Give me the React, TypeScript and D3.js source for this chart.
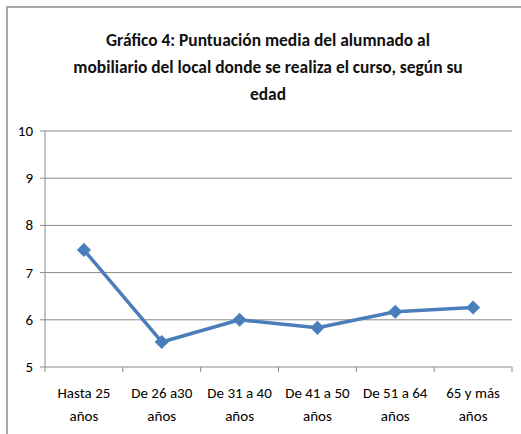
import * as d3 from "d3";

// Gráfico 4 - puntuación media por edad
const categories = [
  ["Hasta 25", "años"],
  ["De 26 a30", "años"],
  ["De 31 a 40", "años"],
  ["De 41 a 50", "años"],
  ["De 51 a 64", "años"],
  ["65 y más", "años"],
];
const values = [7.48, 5.53, 6.0, 5.83, 6.17, 6.26];
const yTicks = [5, 6, 7, 8, 9, 10];
const titleLines = [
  "Gráfico 4: Puntuación media del alumnado al",
  "mobiliario del local donde se realiza el curso, según su",
  "edad",
];

const width = 521;
const height = 434;
const marginLeft = 45;
const marginRight = 9;
const marginTop = 131;
const marginBottom = 67;

const font = "Carlito, Calibri, Lato, 'Open Sans', sans-serif";

export default function App() {
  const x = d3
    .scaleBand<number>()
    .domain(d3.range(categories.length))
    .range([marginLeft, width - marginRight]);
  const y = d3.scaleLinear([5, 10], [height - marginBottom, marginTop]);

  const line = d3
    .line<number>()
    .x((_, i) => x(i)! + x.bandwidth() / 2)
    .y((d) => y(d));

  // square turned 45deg, like the excel marker
  const diamond = d3.symbol(d3.symbolSquare, 100)()!;
  const bounds = [...d3.range(categories.length).map((i) => x(i)!), width - marginRight];

  return (
    <svg
      width={width}
      height={height}
      style={{ position: "absolute", left: 0, top: 0, background: "#fff" }}
      fontFamily={font}
    >
      <rect x={7} y={7} width={width} height={height} fill="none" stroke="#8c8c8c" strokeWidth={1.5} />

      {titleLines.map((t, i) => (
        <text key={i} x={268} y={46 + i * 27} textAnchor="middle" fontSize={17.4} fontWeight="bold" fill="#111">
          {t}
        </text>
      ))}

      {/* gridlines */}
      {yTicks.map((t) => (
        <g key={t}>
          <line x1={marginLeft - 5} x2={width - marginRight} y1={y(t)} y2={y(t)} stroke="#8a8a8a" />
          <text x={marginLeft - 12} y={y(t) + 5} textAnchor="end" fontSize={15} fill="#000">
            {t}
          </text>
        </g>
      ))}

      <line x1={marginLeft} x2={marginLeft} y1={marginTop} y2={height - marginBottom} stroke="#8a8a8a" />
      {bounds.map((b, i) => (
        <line key={i} x1={b} x2={b} y1={height - marginBottom} y2={height - marginBottom + 5} stroke="#8a8a8a" />
      ))}

      {categories.map((c, i) => (
        <text key={i} textAnchor="middle" fontSize={15} fill="#000">
          {c.map((s, j) => (
            <tspan key={j} x={x(i)! + x.bandwidth() / 2} y={height - marginBottom + 31 + j * 23}>
              {s}
            </tspan>
          ))}
        </text>
      ))}

      <path d={line(values)!} fill="none" stroke="#4a7ebb" strokeWidth={3.5} strokeLinejoin="round" />
      {values.map((v, i) => (
        <path
          key={i}
          d={diamond}
          transform={`translate(${x(i)! + x.bandwidth() / 2},${y(v)}) rotate(45)`}
          fill="#4a7ebb"
        />
      ))}
    </svg>
  );
}
